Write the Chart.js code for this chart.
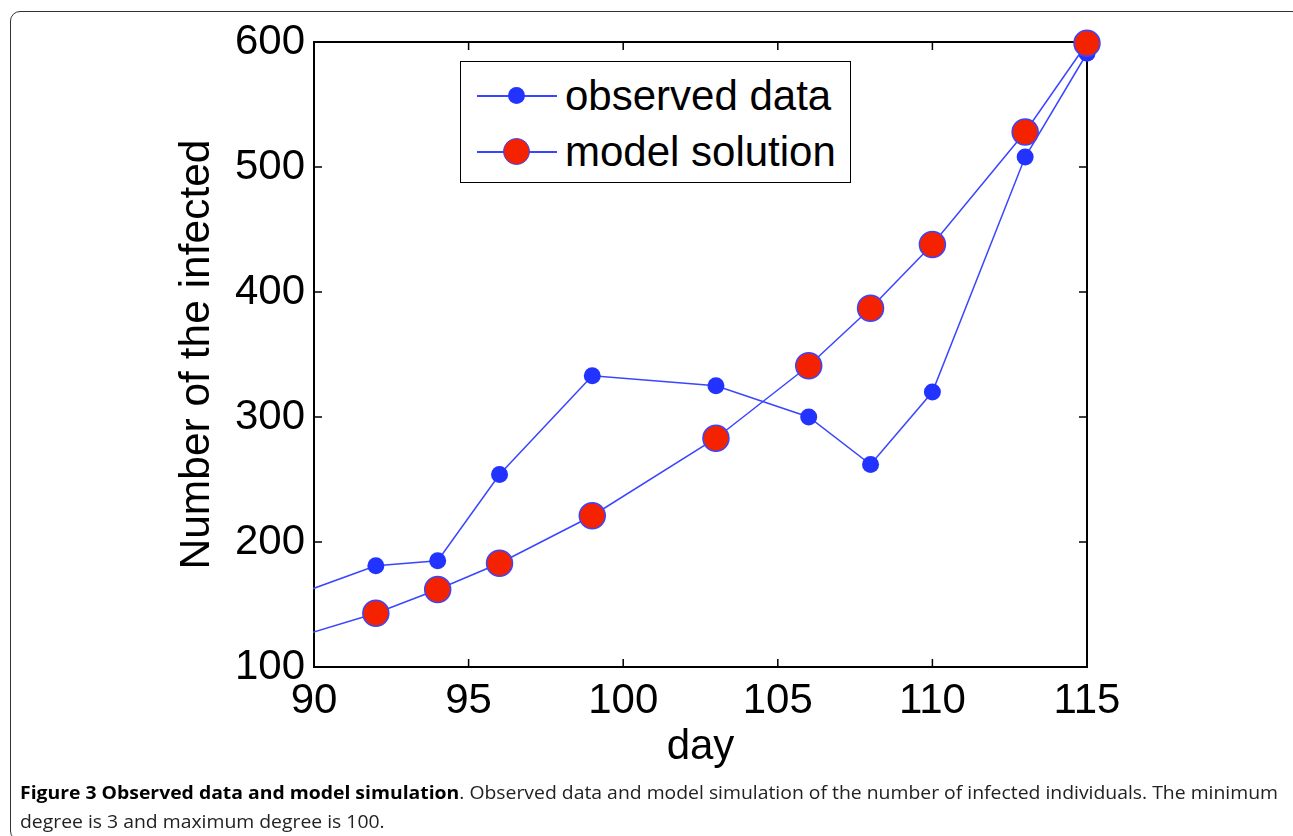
<!DOCTYPE html>
<html>
<head>
<meta charset="utf-8">
<script src="https://cdn.jsdelivr.net/npm/chart.js@4.4.0/dist/chart.umd.min.js"></script>
<style>
  html, body { margin: 0; padding: 0; background: #fff; }
  body { width: 1293px; height: 836px; position: relative; overflow: hidden; }
  #frame { position: absolute; left: 10px; top: 11px; width: 1292px; height: 830px;
           border: 1.5px solid #333; border-radius: 10px; box-sizing: border-box; }
  #wrap { position: absolute; left: 0; top: 0; width: 1293px; height: 780px; }
  #legend { position: absolute; left: 460px; top: 61px; width: 391px; height: 122px;
            border: 1.5px solid #000; box-sizing: border-box; background: #fff;
            font-family: "Liberation Sans", Arial, sans-serif; font-size: 42px; color: #000; }
  .row { position: absolute; left: 0; height: 50px; width: 100%; }
  .seg { position: absolute; left: 16px; width: 80px; top: 24px; height: 1.5px; background: #3a45ff; }
  .dot { position: absolute; border-radius: 50%; box-sizing: border-box; }
  .lab { position: absolute; left: 104px; top: 0; line-height: 50px; white-space: nowrap; }
  #caption { position: absolute; left: 20px; top: 778px; font-family: "Open Sans", sans-serif;
             font-size: 18px; color: #222; line-height: 29px; }
  #caption div { white-space: nowrap; transform-origin: left center; }
</style>
</head>
<body>
<div id="frame"></div>
<div id="wrap"><canvas id="chart"></canvas></div>
<div id="legend">
  <div class="row" style="top: 9px;">
    <div class="seg"></div>
    <div class="dot" style="left: 47px; top: 16px; width: 17px; height: 17px; background: #2233ff;"></div>
    <div class="lab">observed data</div>
  </div>
  <div class="row" style="top: 65px;">
    <div class="seg"></div>
    <div class="dot" style="left: 42px; top: 11px; width: 27px; height: 27px; background: #f52200; border: 1.5px solid #3a45ff;"></div>
    <div class="lab">model solution</div>
  </div>
</div>
<div id="caption">
  <div id="cap1"><b style="color:#000">Figure 3 Observed data and model simulation</b>. Observed data and model simulation of the number of infected individuals. The minimum</div>
  <div id="cap2">degree is 3 and maximum degree is 100.</div>
</div>
<script>
// data (first point lies left of the axis and is clipped)
var days = [88, 92, 94, 96, 99, 103, 106, 108, 110, 113, 115];
var observed = [145, 181, 185, 254, 333, 325, 300, 262, 320, 508, 591];
var model = [113, 143, 162, 183, 221, 283, 341, 387, 438, 528, 599];
var xTicks = [90, 95, 100, 105, 110, 115];
var yTicks = [100, 200, 300, 400, 500, 600];

var lineBlue = "#3a45ff";
var font = "'Liberation Sans', Arial, sans-serif";

function toPoints(vals) {
    return days.map(function (d, i) { return {x: d, y: vals[i]}; });
}

// box round the plot and MATLAB style inward ticks, under the data
var boxTicks = {
    id: "boxTicks",
    beforeDatasetsDraw: function (chart) {
        var ctx = chart.ctx, a = chart.chartArea;
        var xs = chart.scales.x, ys = chart.scales.y, len = 8;
        ctx.save();
        ctx.strokeStyle = "#000";
        ctx.lineWidth = 2;
        ctx.strokeRect(a.left, a.top, a.right - a.left, a.bottom - a.top);
        ctx.lineWidth = 1.5;
        ctx.beginPath();
        xTicks.forEach(function (v) {
            var px = xs.getPixelForValue(v);
            ctx.moveTo(px, a.bottom); ctx.lineTo(px, a.bottom - len);
            ctx.moveTo(px, a.top); ctx.lineTo(px, a.top + len);
        });
        yTicks.forEach(function (v) {
            var py = ys.getPixelForValue(v);
            ctx.moveTo(a.left, py); ctx.lineTo(a.left + len, py);
            ctx.moveTo(a.right, py); ctx.lineTo(a.right - len, py);
        });
        ctx.stroke();
        ctx.restore();
    }
};

var ctx = document.getElementById("chart").getContext("2d");
var myChart = new Chart(ctx, {
    type: "line",
    data: {
        datasets: [{
            label: "model solution",
            data: toPoints(model),
            borderColor: lineBlue,
            borderWidth: 1.5,
            backgroundColor: "#f52200",
            pointBackgroundColor: "#f52200",
            pointBorderColor: lineBlue,
            pointBorderWidth: 1.5,
            pointRadius: 13,
            tension: 0,
            fill: false,
            clip: {left: 1, top: 20, right: 20, bottom: 1}
        }, {
            label: "observed data",
            data: toPoints(observed),
            borderColor: lineBlue,
            borderWidth: 1.5,
            backgroundColor: "#2233ff",
            pointBackgroundColor: "#2233ff",
            pointBorderColor: "#2233ff",
            pointBorderWidth: 0,
            pointRadius: 8.5,
            tension: 0,
            fill: false,
            clip: {left: 1, top: 20, right: 20, bottom: 1}
        }]
    },
    options: {
        responsive: true,
        maintainAspectRatio: false,
        animation: false,
        events: [],
        layout: {padding: {left: 0, top: 42, right: 206, bottom: 0}},
        plugins: {legend: {display: false}, tooltip: {enabled: false}},
        scales: {
            x: {
                type: "linear",
                min: 90, max: 115,
                afterBuildTicks: function (s) { s.ticks = xTicks.map(function (v) { return {value: v}; }); },
                afterFit: function (s) { s.height = 113; },
                grid: {display: false, drawTicks: false},
                border: {display: false},
                ticks: {autoSkip: false, maxRotation: 0, padding: 9, color: "#000",
                        font: {family: font, size: 42}},
                title: {display: true, text: "day", color: "#000",
                        font: {family: font, size: 42}, padding: {top: 0, bottom: 7}}
            },
            y: {
                type: "linear",
                min: 100, max: 600,
                afterBuildTicks: function (s) { s.ticks = yTicks.map(function (v) { return {value: v}; }); },
                afterFit: function (s) { s.width = 314; },
                grid: {display: false, drawTicks: false},
                border: {display: false},
                ticks: {autoSkip: false, padding: 9, color: "#000",
                        font: {family: font, size: 42}},
                title: {display: true, text: "Number of the infected", color: "#000",
                        font: {family: font, size: 42.5}, padding: {top: 172, bottom: 0}}
            }
        }
    },
    plugins: [boxTicks]
});

// squeeze the caption to the width it has in the figure
var cap1 = document.getElementById("cap1"), cap2 = document.getElementById("cap2");
var w = cap1.getBoundingClientRect().width;
var k = 1258 / w;
cap1.style.transform = "scaleX(" + k + ")";
cap2.style.transform = "scaleX(" + k + ")";
</script>
</body>
</html>
